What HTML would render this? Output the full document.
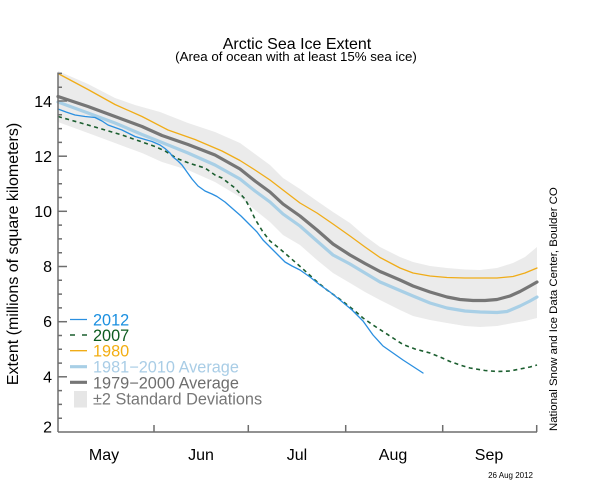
<!DOCTYPE html>
<html><head><meta charset="utf-8"><style>
html,body{margin:0;padding:0;background:#fff;}
svg{display:block;}
text{font-family:"Liberation Sans",Arial,sans-serif;}
</style></head><body>
<svg width="600" height="480" viewBox="0 0 600 480" xmlns="http://www.w3.org/2000/svg">
<rect width="600" height="480" fill="#fff"/>
<!-- title -->
<text x="297" y="49" font-size="16" text-anchor="middle" fill="#000">Arctic Sea Ice Extent</text>
<text x="296" y="61" font-size="13.3" text-anchor="middle" fill="#000">(Area of ocean with at least 15% sea ice)</text>

<!-- std band -->
<polygon fill="#ebebeb" points="58,71 88,84 115,98 135,105 160,112 188,123 215,132 240,143 255,154 270,165 283,178 300,189 317,201 333,212 350,223 365,236 380,247 400,257 413,262 430,266 447,268 465,269.5 480,270 497,268 513,263 525,257 537,247 537,318 525,321 513,323 497,326 480,327 465,326 447,323 430,320 413,316 400,310 380,300 365,292 350,283 333,273 317,260 300,245 283,235 270,222 255,210 240,197 215,182 188,170 162,162 142,153 115,143 88,133 58,122"/>

<g fill="none" stroke-linejoin="round" stroke-linecap="round">
<!-- 1979-2000 avg -->
<polyline stroke="#767676" stroke-width="3.2" points="58,96.5 88,106.5 115,116.5 142,126.5 162,135.5 188,144.5 215,155 240,169 255,181 270,192 283,204 300,216 317,230 333,244 350,255 365,263.5 380,271.5 400,280 413,286 430,292 447,297 460,299.5 473,300.5 485,300.5 497,299.5 510,296 520,291.5 530,286 537,282"/>
<!-- 1981-2010 avg -->
<polyline stroke="#a8cfe6" stroke-width="3.2" points="58,102 88,113 115,123 142,134.5 162,142.5 188,153 215,165 240,179 255,191 270,202 283,214 300,226 317,241 333,255 350,264 365,273 380,282 400,290.5 413,296 430,303 447,308 465,311 480,312 497,312.5 507,311.5 520,306 530,301 537,297"/>
<!-- 1980 -->
<polyline stroke="#f0ac17" stroke-width="1.3" points="58,73.5 88,89.5 115,104.5 142,116.5 168,130 195,139.5 222,151 240,160.5 255,170 270,180 283,190 300,203 317,213 333,224 350,236 365,247 380,257.5 400,268 413,273 430,276 447,277.5 465,278 480,278 497,278 513,276.5 525,273 537,268"/>
<!-- 2007 -->
<polyline stroke="#1b5e2f" stroke-width="1.6" stroke-dasharray="4 3.5" stroke-linecap="butt" points="58,116.5 88,125 122,135 155,146.5 165,151 177,158.5 190,163.5 205,168 215,175 222,178 235,188 245,199 250,208 255,219 263,232 270,241 280,249 287,255 295,262 303,269 315,280 327,290 343,301.5 355,311 363,318 373,325 383,331.5 393,338 403,344.5 415,349 430,353 440,357 450,361.5 460,365 470,368 485,370.5 497,371.5 510,371 520,369 530,367 537,365"/>
<!-- 2012 -->
<polyline stroke="#2a8fe0" stroke-width="1.3" points="58,109 66,112 75,115 85,116.5 95,117.5 102,121 108,125 115,127.5 122,130 135,136.5 145,139.5 152,141.5 160,145 165,148.5 170,153 173,157 178,161 182,165 187,172 192,179 198,186 205,191 212,194 217,196.5 225,202 233,209 241,216 250,225 257,232 263,240 270,247 278,255 285,262 292,266 300,270 310,277 320,285 330,292 340,300 352,310 363,321 373,335 383,346 393,353 403,360 413,366.5 423,373"/>
</g>

<!-- axes -->
<g stroke="#6e6e6e" stroke-width="1.5" fill="none">
<line x1="58" y1="72.5" x2="58" y2="432"/>
<line x1="58" y1="432" x2="537" y2="432"/>
<!-- x ticks -->
<line x1="154" y1="432" x2="154" y2="425"/>
<line x1="248.3" y1="432" x2="248.3" y2="425"/>
<line x1="345.7" y1="432" x2="345.7" y2="425"/>
<line x1="442.7" y1="432" x2="442.7" y2="425"/>
<line x1="536.7" y1="432" x2="536.7" y2="425"/>
<!-- y major ticks -->
<line x1="58" y1="101" x2="67" y2="101"/>
<line x1="58" y1="156.2" x2="67" y2="156.2"/>
<line x1="58" y1="211.3" x2="67" y2="211.3"/>
<line x1="58" y1="266.5" x2="67" y2="266.5"/>
<line x1="58" y1="321.7" x2="67" y2="321.7"/>
<line x1="58" y1="376.8" x2="67" y2="376.8"/>
<!-- y minor ticks -->
<path d="M58 73.4h4M58 87.2h4M58 114.8h4M58 128.6h4M58 142.4h4M58 170h4M58 183.7h4M58 197.5h4M58 225.1h4M58 238.9h4M58 252.7h4M58 280.3h4M58 294.1h4M58 307.9h4M58 335.5h4M58 349.3h4M58 363.1h4M58 390.6h4M58 404.4h4M58 418.2h4"/>
</g>

<!-- y tick labels -->
<g font-size="16" fill="#000" text-anchor="end">
<text x="52" y="107">14</text>
<text x="52" y="162">12</text>
<text x="52" y="217">10</text>
<text x="52" y="272">8</text>
<text x="52" y="327">6</text>
<text x="52" y="382.5">4</text>
<text x="52" y="432.5">2</text>
</g>

<!-- month labels -->
<g font-size="16" fill="#000" text-anchor="middle">
<text x="104" y="460">May</text>
<text x="201" y="460">Jun</text>
<text x="297" y="460">Jul</text>
<text x="393" y="460">Aug</text>
<text x="489" y="460">Sep</text>
</g>

<!-- y axis title -->
<text transform="translate(18,254) rotate(-90)" font-size="16" text-anchor="middle" fill="#000">Extent (millions of square kilometers)</text>

<!-- right credit -->
<text transform="translate(557,431) rotate(-90)" font-size="11.4" fill="#000">National Snow and Ice Data Center, Boulder CO</text>

<!-- date -->
<text x="533" y="478" font-size="8" text-anchor="end" fill="#000">26 Aug 2012</text>

<!-- legend -->
<g stroke-linecap="butt">
<line x1="70" y1="319.5" x2="87" y2="319.5" stroke="#2a8fe0" stroke-width="1.3"/>
<line x1="70" y1="335" x2="87" y2="335" stroke="#1b5e2f" stroke-width="1.6" stroke-dasharray="5 7"/>
<line x1="70" y1="350.7" x2="87" y2="350.7" stroke="#f0ac17" stroke-width="1.3"/>
<line x1="70" y1="366.7" x2="87" y2="366.7" stroke="#a8cfe6" stroke-width="3.2"/>
<line x1="70" y1="382.3" x2="87" y2="382.3" stroke="#767676" stroke-width="3.2"/>
<rect x="74" y="391" width="13" height="16.5" fill="#e6e6e6"/>
</g>
<g font-size="16.3">
<text x="93" y="325.3" fill="#1a8fe0">2012</text>
<text x="93" y="341" fill="#0c5b1f">2007</text>
<text x="93" y="356.7" fill="#f3ae12">1980</text>
<text x="93" y="372.7" fill="#a9cde6">1981−2010 Average</text>
<text x="93" y="388.3" fill="#6e6e6e">1979−2000 Average</text>
<text x="93" y="404.3" fill="#777">±2 Standard Deviations</text>
</g>
</svg>
</body></html>
